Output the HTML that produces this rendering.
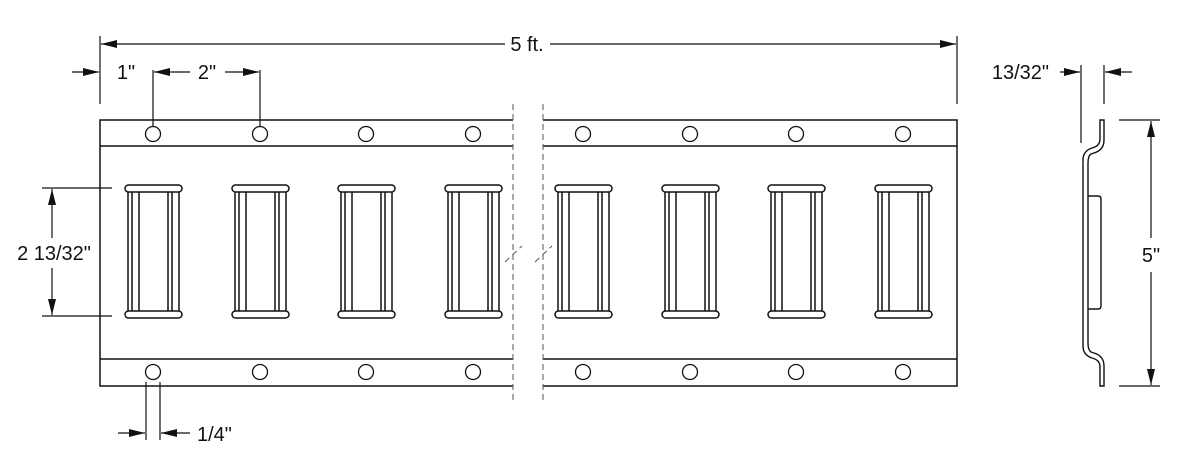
<!DOCTYPE html>
<html><head><meta charset="utf-8"><style>
html,body{margin:0;padding:0;background:#fff;}
svg{display:block;}
text{font-family:"Liberation Sans",Arial,sans-serif;font-size:20px;fill:#111;}
</style></head><body>
<svg width="1200" height="468" viewBox="0 0 1200 468" xmlns="http://www.w3.org/2000/svg">
<defs>
<marker id="a" markerWidth="16" markerHeight="8" refX="16" refY="4" orient="auto" markerUnits="userSpaceOnUse"><path d="M0,0 L16,4 L0,8 Z" fill="#111"/></marker>
<g id="slot" fill="#fff" stroke="#111" stroke-width="1.5">
<rect x="3" y="1" width="11" height="122"/>
<line x1="7" y1="1" x2="7" y2="123"/>
<rect x="43" y="1" width="11" height="122"/>
<line x1="47" y1="1" x2="47" y2="123"/>
<rect x="0" y="-5" width="57" height="7" rx="3.5"/>
<rect x="0" y="121" width="57" height="7" rx="3.5"/>
</g>
</defs>
<g fill="none" stroke="#111" stroke-width="1.5">
<path d="M513,120 H100 V386 H513"/>
<line x1="100" y1="146" x2="513" y2="146"/>
<line x1="100" y1="359" x2="513" y2="359"/>
<path d="M543,120 H957 V386 H543"/>
<line x1="543" y1="146" x2="957" y2="146"/>
<line x1="543" y1="359" x2="957" y2="359"/>
</g>
<g stroke="#555" stroke-width="1" stroke-dasharray="6,4">
<line x1="513" y1="104" x2="513" y2="400"/>
<line x1="543" y1="104" x2="543" y2="400"/>
<line x1="505" y1="262" x2="522" y2="246"/>
<line x1="535" y1="262" x2="552" y2="246"/>
</g>
<g fill="#fff" stroke="#111" stroke-width="1.3">
<circle cx="153" cy="134" r="7.5"/><circle cx="260" cy="134" r="7.5"/><circle cx="366" cy="134" r="7.5"/><circle cx="473" cy="134" r="7.5"/>
<circle cx="583" cy="134" r="7.5"/><circle cx="690" cy="134" r="7.5"/><circle cx="796" cy="134" r="7.5"/><circle cx="903" cy="134" r="7.5"/>
<circle cx="153" cy="372" r="7.5"/><circle cx="260" cy="372" r="7.5"/><circle cx="366" cy="372" r="7.5"/><circle cx="473" cy="372" r="7.5"/>
<circle cx="583" cy="372" r="7.5"/><circle cx="690" cy="372" r="7.5"/><circle cx="796" cy="372" r="7.5"/><circle cx="903" cy="372" r="7.5"/>
</g>
<use href="#slot" x="125" y="190"/>
<use href="#slot" x="232" y="190"/>
<use href="#slot" x="338" y="190"/>
<use href="#slot" x="445" y="190"/>
<use href="#slot" x="555" y="190"/>
<use href="#slot" x="662" y="190"/>
<use href="#slot" x="768" y="190"/>
<use href="#slot" x="875" y="190"/>
<g stroke="#111" stroke-width="1.2" fill="none">
<line x1="100" y1="36" x2="100" y2="104"/>
<line x1="957" y1="36" x2="957" y2="104"/>
<line x1="505" y1="44" x2="101" y2="44" marker-end="url(#a)"/>
<line x1="550" y1="44" x2="956" y2="44" marker-end="url(#a)"/>
<line x1="72" y1="72" x2="99" y2="72" marker-end="url(#a)"/>
<line x1="153" y1="70" x2="153" y2="126"/>
<line x1="260" y1="70" x2="260" y2="126"/>
<line x1="190" y1="72" x2="154" y2="72" marker-end="url(#a)"/>
<line x1="225" y1="72" x2="259" y2="72" marker-end="url(#a)"/>
<line x1="42" y1="188" x2="112" y2="188"/>
<line x1="42" y1="316" x2="112" y2="316"/>
<line x1="52" y1="238" x2="52" y2="189" marker-end="url(#a)"/>
<line x1="52" y1="268" x2="52" y2="315" marker-end="url(#a)"/>
<line x1="146" y1="382" x2="146" y2="440"/>
<line x1="160" y1="382" x2="160" y2="440"/>
<line x1="118" y1="433" x2="145" y2="433" marker-end="url(#a)"/>
<line x1="190" y1="433" x2="161" y2="433" marker-end="url(#a)"/>
<line x1="1081" y1="65" x2="1081" y2="143"/>
<line x1="1104" y1="65" x2="1104" y2="104"/>
<line x1="1060" y1="72" x2="1080" y2="72" marker-end="url(#a)"/>
<line x1="1132" y1="72" x2="1105" y2="72" marker-end="url(#a)"/>
<line x1="1119" y1="120" x2="1160" y2="120"/>
<line x1="1119" y1="386" x2="1160" y2="386"/>
<line x1="1151" y1="238" x2="1151" y2="121" marker-end="url(#a)"/>
<line x1="1151" y1="272" x2="1151" y2="385" marker-end="url(#a)"/>
</g>
<g fill="none" stroke="#111" stroke-width="1.4">
<path d="M1100,120 H1104 V140 Q1104,150 1094,153 L1091,154 Q1088,156 1088,163 V343 Q1088,350 1091,352 L1094,353 Q1104,356 1104,366 V386 H1100 V367 Q1100,360 1092,358 Q1083,355 1083,346 V160 Q1083,151 1092,148 Q1100,146 1100,139 Z"/>
<path d="M1088,196 H1098 Q1101,196 1101,199 V306 Q1101,309 1098,309 H1088"/>
</g>
<rect x="505" y="32" width="45" height="24" fill="#fff"/>
<text x="527" y="51" text-anchor="middle">5 ft.</text>
<text x="126" y="79" text-anchor="middle">1"</text>
<text x="207" y="79" text-anchor="middle">2"</text>
<text x="54" y="260" text-anchor="middle">2 13/32"</text>
<text x="197" y="441">1/4"</text>
<text x="1049" y="79" text-anchor="end">13/32"</text>
<rect x="1139" y="241" width="24" height="28" fill="#fff"/>
<text x="1151" y="262" text-anchor="middle">5"</text>
</svg>
</body></html>
